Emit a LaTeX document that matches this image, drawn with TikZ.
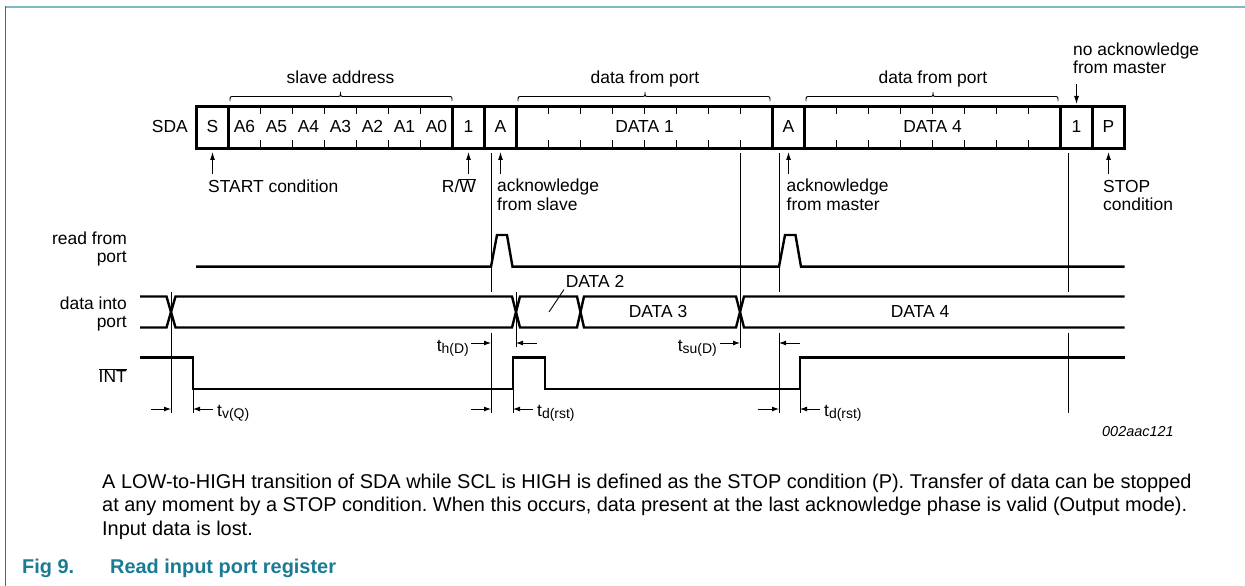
\documentclass[tikz,border=0pt]{standalone}
\usepackage{fontspec}
\setmainfont{Liberation Sans}
\usetikzlibrary{arrows.meta}
\definecolor{capteal}{HTML}{1B7A94}
\definecolor{toplight}{HTML}{80B9C4}
\frenchspacing
\newcommand\mybrace[3]{\draw[line width=0.9bp] (#1,101) .. controls (#1,96.5) .. (#1+4,96.5) -- (#2-4,96.5) .. controls (#2,96.5) .. (#2,92) .. controls (#2,96.5) .. (#2+4,96.5) -- (#3-4,96.5) .. controls (#3,96.5) .. (#3,101);}
\newcommand\tsub[2]{#1\raisebox{-2bp}{\fontsize{14}{14}\selectfont #2}}
\begin{document}
\begin{tikzpicture}[x=1bp,y=-1bp,
  lbl/.style={font=\fontsize{17.5}{17.5}\selectfont,inner sep=0pt},
  body/.style={font=\fontsize{20}{20}\selectfont,inner sep=0pt,anchor=base west},
  capt/.style={font=\bfseries\fontsize{20}{20}\selectfont,text=capteal,inner sep=0pt,anchor=base west},
  wave/.style={line width=2.4bp,line join=miter},
  thinl/.style={line width=0.9bp},
  dimarrow/.style={line width=0.9bp,-{Latex[length=7bp,width=5bp]}},
  ptr/.style={line width=0.9bp,-{Latex[length=8bp,width=5bp]}},
  cellb/.style={line width=2.4bp},
  tickl/.style={line width=1.8bp}]
\useasboundingbox (0,0) rectangle (1245,586);
% frame
\draw[toplight,line width=2bp] (5,6.7) -- (1245,6.7);
\draw[capteal,line width=1.6bp] (5.5,6) -- (5.5,586);

% ---------------- SDA row
\draw[cellb] (196.5,106.5) rectangle (1124.5,148.5);
\foreach \k in {1,8,9,10,18,19,27,28}
  \draw[cellb] (196.5+32*\k,106.5) -- (196.5+32*\k,148.5);
\foreach \k in {2,3,4,5,6,7,11,12,13,14,15,16,17,20,21,22,23,24,25,26}
  \draw[tickl] (196.5+32*\k,106.5) -- ++(0,8) (196.5+32*\k,148.5) -- ++(0,-8);
\node[lbl,anchor=base east] (sda) at (188,133) {SDA};
\node[lbl,anchor=base] (cS) at (212.5,133) {S};
\foreach \t [count=\i] in {A6,A5,A4,A3,A2,A1,A0}
  \node[lbl,anchor=base] (c\t) at (212.5+32*\i,133) {\t};
\node[lbl,anchor=base] (crw) at (468.5,133) {1};
\node[lbl,anchor=base] (cack1) at (500.5,133) {A};
\node[lbl,anchor=base] (cd1) at (644.5,133) {DATA 1};
\node[lbl,anchor=base] (cack2) at (788.5,133) {A};
\node[lbl,anchor=base] (cd4) at (932.5,133) {DATA 4};
\node[lbl,anchor=base] (cnack) at (1076.5,133) {1};
\node[lbl,anchor=base] (cP) at (1108.5,133) {P};

% braces
\mybrace{230}{340.5}{452}
\mybrace{518}{645}{770}
\mybrace{806}{933}{1058}
\node[lbl,anchor=base] (lsa) at (340.5,84) {slave address};
\node[lbl,anchor=base] (ldp1) at (645,84) {data from port};
\node[lbl,anchor=base] (ldp2) at (933,84) {data from port};

% labels above / below
\node[lbl,anchor=base west] (nack1) at (1073,55.5) {no acknowledge};
\node[lbl,anchor=base west] (nack2) at (1073,74) {from master};
\coordinate (nackt) at (1076.5,84);
\coordinate (nackh) at (1076.5,104);
\draw[ptr] (nackt) -- (nackh);

\node[lbl,anchor=base west] (start) at (208,193) {START condition};
\node[lbl,anchor=base east] (rw) at (476,193) {R/$\overline{\mbox{W}}$};
\node[lbl,anchor=base west] (ack1a) at (497,192) {acknowledge};
\node[lbl,anchor=base west] (ack1b) at (497,210.5) {from slave};
\node[lbl,anchor=base west] (ack2a) at (786.5,192) {acknowledge};
\node[lbl,anchor=base west] (ack2b) at (786.5,210.5) {from master};
\node[lbl,anchor=base west] (stopa) at (1103,193) {STOP};
\node[lbl,anchor=base west] (stopb) at (1103,211) {condition};
\foreach \x/\n in {212.5/s,468.5/rw,500.5/a1,788.5/a2,1108.5/p}{
  \coordinate (u\n t) at (\x,174);
  \coordinate (u\n h) at (\x,152);
  \draw[ptr] (u\n t) -- (u\n h);
}

% ---------------- row labels
\node[lbl,anchor=base east] (rfp1) at (127,245) {read from};
\node[lbl,anchor=base east] (rfp2) at (127,263) {port};
\node[lbl,anchor=base east] (dip1) at (127,310) {data into};
\node[lbl,anchor=base east] (dip2) at (127,328) {port};
\node[lbl,anchor=base east] (int) at (127,382.5) {$\overline{\mbox{INT}}$};

% ---------------- thin reference lines
\draw[thinl] (171,292) -- (171,413);
\draw[thinl] (193,389) -- (193,413);
\draw[thinl] (491,153) -- (491,292) (491,333) -- (491,413);
\draw[thinl] (516,292) -- (516,347);
\draw[thinl] (513,389) -- (513,413);
\draw[thinl] (740,153) -- (740,348);
\draw[thinl] (779,153) -- (779,292) (779,333) -- (779,413);
\draw[thinl] (800,389) -- (800,413);
\draw[thinl] (1068,153) -- (1068,292) (1068,333) -- (1068,413);

% ---------------- waveforms
% read from port
\draw[wave] (196,266.7) -- (491,266.7) -- (497,235) -- (507,235) -- (512.5,266.7)
  -- (779,266.7) -- (785,235) -- (795.5,235) -- (801,266.7) -- (1124.5,266.7);
% data into port
\def\T{296.5}\def\B{327.5}
\draw[wave] (140,\T) -- (166.5,\T) -- (175.5,\B) -- (512,\B) -- (520,\T) -- (577,\T) -- (584,\B) -- (736,\B) -- (744,\T) -- (1124.5,\T);
\draw[wave] (140,\B) -- (166.5,\B) -- (175.5,\T) -- (512,\T) -- (520,\B) -- (577,\B) -- (584,\T) -- (736,\T) -- (744,\B) -- (1124.5,\B);
\node[lbl,anchor=base] (d2) at (595,288) {DATA 2};
\coordinate (d2l) at (549,312);
\draw[thinl] (d2l) -- (564,289.5);
\node[lbl,anchor=base] (d3) at (658,318) {DATA 3};
\node[lbl,anchor=base] (d4) at (920,318) {DATA 4};
% INT
\draw[wave] (140,357.5) -- (193,357.5) -- (193,389) -- (513,389) -- (513,357.5) -- (545,357.5)
  -- (545,389) -- (800,389) -- (800,357.5) -- (1124.5,357.5);

% ---------------- timing arrows
\draw[dimarrow] (151,409) -- (171,409);
\draw[dimarrow] (213,409) -- (193,409);
\node[lbl,anchor=base west] (tvq) at (217,416) {\tsub{t}{v(Q)}};

\draw[dimarrow] (471,343) -- (491,343);
\node[lbl,anchor=base east] (thd) at (469,352) {\tsub{t}{h(D)}};
\draw[dimarrow] (537,343) -- (516,343);

\draw[dimarrow] (720,343) -- (740,343);
\node[lbl,anchor=base east] (tsu) at (717,352) {\tsub{t}{su(D)}};
\draw[dimarrow] (800,343) -- (779,343);

\draw[dimarrow] (471,409) -- (491,409);
\draw[dimarrow] (533,409) -- (513,409);
\node[lbl,anchor=base west] (tdr1) at (537,416) {\tsub{t}{d(rst)}};

\draw[dimarrow] (758,409) -- (779,409);
\draw[dimarrow] (820,409) -- (800,409);
\node[lbl,anchor=base west] (tdr2) at (824,416) {\tsub{t}{d(rst)}};

\node[font=\itshape\fontsize{14.5}{14.5}\selectfont,inner sep=0pt,anchor=base west] (code) at (1102,436) {002aac121};

% ---------------- text below
\node[body] (p1) at (102,488) {A LOW-to-HIGH transition of SDA while SCL is HIGH is defined as the STOP condition (P). Transfer of data can be stopped};
\node[body] (p2) at (102,511.5) {at any moment by a STOP condition. When this occurs, data present at the last acknowledge phase is valid (Output mode).};
\node[body] (p3) at (102,535) {Input data is lost.};
\node[capt] (fig) at (22,573) {Fig 9.};
\node[capt] (figt) at (110,573) {Read input port register};
\end{tikzpicture}
\end{document}
